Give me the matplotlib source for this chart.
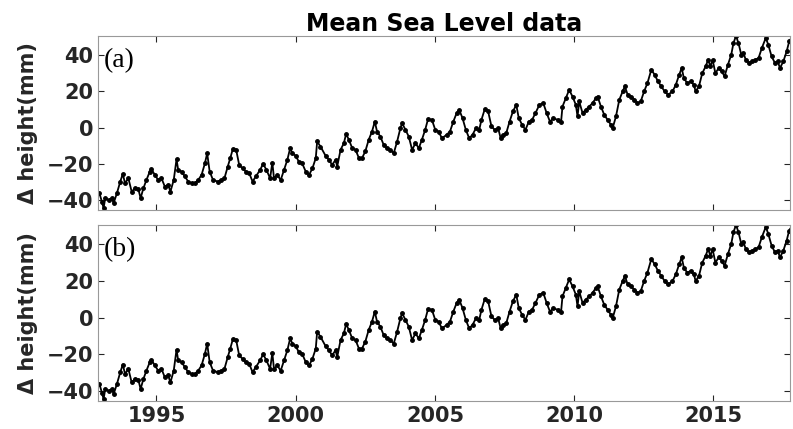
import matplotlib
matplotlib.use("Agg")
import matplotlib.pyplot as plt

years = [1992.95, 1993.04, 1993.10, 1993.16, 1993.28, 1993.40, 1993.46, 1993.58, 1993.70, 1993.79,
         1993.87, 1993.99, 1994.11, 1994.23, 1994.35, 1994.43, 1994.53, 1994.64, 1994.76, 1994.82,
         1994.94, 1995.06, 1995.18, 1995.30, 1995.42, 1995.50, 1995.62, 1995.72, 1995.78, 1995.90,
         1996.02, 1996.14, 1996.26, 1996.38, 1996.50, 1996.62, 1996.74, 1996.82, 1996.91, 1997.03,
         1997.20, 1997.32, 1997.44, 1997.56, 1997.65, 1997.74, 1997.86, 1997.97, 1998.09, 1998.21,
         1998.33, 1998.45, 1998.57, 1998.72, 1998.83, 1998.95, 1999.08, 1999.16, 1999.22, 1999.34,
         1999.46, 1999.58, 1999.70, 1999.80, 1999.88, 2000.00, 2000.11, 2000.23, 2000.36, 2000.48,
         2000.60, 2000.72, 2000.77, 2000.89, 2001.07, 2001.19, 2001.31, 2001.43, 2001.49, 2001.61,
         2001.73, 2001.81, 2001.91, 2002.03, 2002.15, 2002.27, 2002.38, 2002.50, 2002.62, 2002.74,
         2002.84, 2002.92, 2003.04, 2003.16, 2003.28, 2003.40, 2003.52, 2003.64, 2003.76, 2003.82,
         2003.94, 2004.06, 2004.18, 2004.30, 2004.42, 2004.53, 2004.65, 2004.75, 2004.89, 2005.01,
         2005.13, 2005.25, 2005.42, 2005.54, 2005.66, 2005.78, 2005.87, 2005.99, 2006.11, 2006.23,
         2006.35, 2006.47, 2006.59, 2006.67, 2006.79, 2006.91, 2007.03, 2007.15, 2007.27, 2007.36,
         2007.44, 2007.56, 2007.68, 2007.80, 2007.92, 2008.01, 2008.13, 2008.25, 2008.37, 2008.49,
         2008.61, 2008.75, 2008.89, 2009.01, 2009.13, 2009.25, 2009.41, 2009.53, 2009.58, 2009.70,
         2009.82, 2009.94, 2010.06, 2010.12, 2010.18, 2010.30, 2010.42, 2010.54, 2010.66, 2010.78,
         2010.84, 2010.96, 2011.08, 2011.20, 2011.32, 2011.38, 2011.50, 2011.62, 2011.74, 2011.82,
         2011.92, 2012.04, 2012.15, 2012.27, 2012.39, 2012.51, 2012.63, 2012.77, 2012.89, 2013.01,
         2013.13, 2013.25, 2013.37, 2013.53, 2013.65, 2013.77, 2013.86, 2013.94, 2014.06, 2014.18,
         2014.30, 2014.36, 2014.48, 2014.60, 2014.72, 2014.81, 2014.89, 2014.97, 2015.07, 2015.19,
         2015.30, 2015.40, 2015.52, 2015.64, 2015.72, 2015.81, 2015.90, 2016.00, 2016.08, 2016.16,
         2016.28, 2016.38, 2016.50, 2016.62, 2016.74, 2016.88, 2016.97, 2017.09, 2017.21, 2017.31,
         2017.39, 2017.51, 2017.63, 2017.72, 2017.79]

msl_a = [-36.2, -40.9, -44.5, -39.0, -40.0, -39.0, -41.8, -36.2, -29.8, -25.6,
         -30.7, -28.0, -35.4, -33.5, -34.0, -39.0, -33.5, -28.9, -24.3, -23.0,
         -26.1, -28.9, -28.0, -32.6, -31.5, -35.4, -28.9, -17.5, -23.4, -24.3,
         -27.0, -29.8, -30.7, -30.7, -28.9, -26.1, -19.7, -14.2, -24.3, -28.9,
         -29.8, -29.0, -28.0, -21.5, -16.9, -11.9, -12.2, -20.6, -22.5, -24.3,
         -25.2, -29.8, -27.0, -23.4, -20.0, -23.4, -28.0, -19.3, -28.0, -26.1,
         -29.0, -23.4, -17.8, -11.4, -14.2, -15.6, -18.8, -19.7, -24.3, -26.1,
         -22.5, -16.9, -7.7, -10.5, -15.5, -17.8, -20.6, -17.8, -21.5, -12.3,
         -8.6, -3.5, -6.8, -11.4, -12.3, -16.9, -16.9, -13.1, -6.8, -2.2,
         3.3, -2.2, -5.0, -9.6, -11.4, -12.3, -14.2, -7.8, -0.3, 2.4,
         -1.2, -5.0, -12.3, -8.6, -11.4, -6.8, -1.2, 4.6, 4.3, -1.2,
         -2.2, -5.9, -4.0, -2.2, 3.3, 8.0, 9.8, 5.2, -1.3, -5.9,
         -4.0, -0.4, -1.3, 4.3, 10.2, 8.9, 0.6, -1.3, -0.4, -5.9,
         -4.0, -3.1, 3.3, 8.9, 12.5, 5.2, 1.5, -1.3, 3.3, 4.3,
         8.0, 12.5, 13.5, 8.0, 3.3, 5.0, 4.3, 3.3, 11.6, 16.2,
         20.8, 17.1, 12.5, 6.1, 14.4, 8.0, 9.8, 11.6, 13.5, 16.2,
         17.1, 11.6, 7.0, 4.3, 1.5, -0.4, 6.1, 15.3, 19.9, 22.7,
         18.1, 17.1, 15.3, 13.5, 14.4, 19.9, 24.5, 31.9, 29.1, 25.4,
         22.7, 19.9, 18.1, 19.9, 23.6, 29.1, 32.8, 27.2, 24.5, 25.4,
         23.6, 19.9, 22.7, 30.0, 33.7, 37.4, 33.7, 37.4, 30.0, 32.8,
         31.0, 28.2, 34.6, 40.2, 46.6, 50.5, 46.6, 40.2, 41.1, 37.4,
         35.6, 36.5, 37.4, 38.3, 43.9, 49.4, 45.7, 39.2, 35.6, 36.5,
         32.8, 36.5, 42.0, 47.5, 48.4]

# panel (b) shows the same record
msl_b = list(msl_a)

panel_labels = ["(a)", "(b)"]
xticks = [1995, 2000, 2005, 2010, 2015]
yticks = [-40, -20, 0, 20, 40]
title = "Mean Sea Level data"
ylabel = "\u0394 height(mm)"

W, H = 793, 429
fig = plt.figure(figsize=(W / 100, H / 100), dpi=100)

ax_a = fig.add_axes([98 / W, 1 - 210 / H, 692 / W, 174 / H])
ax_b = fig.add_axes([98 / W, 1 - 401 / H, 692 / W, 176 / H])

spine_c = "#262626"
for ax, data, lab in [(ax_a, msl_a, panel_labels[0]), (ax_b, msl_b, panel_labels[1])]:
    ax.plot(years, data, color="black", linewidth=1.3, marker=".", markersize=5)
    ax.set_xlim(1992.9, 2017.75)
    ax.set_ylim(-45.5, 50.5)
    ax.set_xticks(xticks)
    ax.set_yticks(yticks)
    ax.tick_params(direction="in", length=4, width=0.8, top=True, right=True,
                   colors=spine_c, labelsize=15)
    for lbl in ax.get_xticklabels() + ax.get_yticklabels():
        lbl.set_fontweight("bold")
        lbl.set_family("DejaVu Sans")
    for s in ax.spines.values():
        s.set_color("#999999")
        s.set_linewidth(0.8)
    ax.set_ylabel(ylabel, fontsize=15, fontweight="bold", family="DejaVu Sans",
                  color=spine_c, labelpad=6)
    ax.text(0.008, 0.86, lab, transform=ax.transAxes, fontsize=20,
            family="Liberation Serif", va="center", ha="left", color="black")

ax_a.tick_params(labelbottom=False)
ax_a.set_title(title, fontsize=17, fontweight="bold", family="DejaVu Sans",
               color="black", pad=3)

fig.savefig("out.png", dpi=100)
